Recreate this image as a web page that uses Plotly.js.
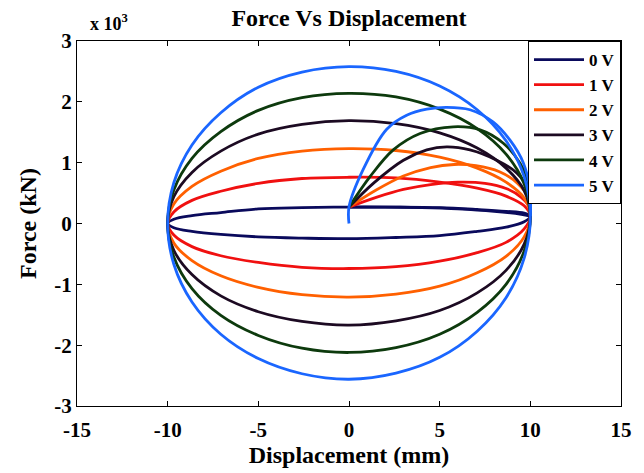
<!DOCTYPE html>
<html>
<head>
<meta charset="utf-8">
<script src="https://cdn.plot.ly/plotly-3.0.1.min.js"></script>
<style>html,body{margin:0;padding:0;background:#fff;}#chart{width:644px;height:473px;}</style>
</head>
<body>
<div id="chart"></div>
<script>
// Displacement positions along each hysteresis loop (mm)
const loopX = [-10, -9.66, -8.66, -7.07, -5, -2.59, 0, 2.59, 5, 7.07, 8.66, 9.66, 10];

// Upper / lower branch forces (x10^3 kN)
const up0V = [0, .07, .13, .18, .24, .26, .27, .27, .26, .23, .2, .17, .12];
const lo0V = [0, -.07, -.13, -.18, -.22, -.24, -.25, -.23, -.2, -.13, -.06, .03, .12];
const up1V = [0, .19, .38, .53, .66, .74, .76, .75, .68, .58, .45, .29, .12];
const lo1V = [0, -.19, -.38, -.53, -.64, -.72, -.74, -.71, -.62, -.48, -.31, -.09, .12];
const up2V = [0, .32, .61, .86, 1.07, 1.19, 1.23, 1.2, 1.09, .91, .68, .42, .12];
const lo2V = [0, -.32, -.61, -.86, -1.05, -1.17, -1.21, -1.16, -1.03, -.81, -.54, -.22, .12];
const up3V = [0, .44, .84, 1.19, 1.47, 1.63, 1.69, 1.64, 1.49, 1.24, .91, .54, .12];
const lo3V = [0, -.44, -.84, -1.19, -1.45, -1.61, -1.67, -1.6, -1.43, -1.14, -.77, -.34, .12];
const up4V = [0, .55, 1.07, 1.51, 1.86, 2.07, 2.14, 2.08, 1.88, 1.56, 1.14, .65, .12];
const lo4V = [0, -.55, -1.07, -1.51, -1.84, -2.05, -2.12, -2.04, -1.82, -1.46, -1.0, -.45, .12];
const up5V = [0, .67, 1.29, 1.82, 2.24, 2.49, 2.58, 2.5, 2.26, 1.87, 1.36, .77, .12];
const lo5V = [0, -.67, -1.29, -1.82, -2.22, -2.47, -2.56, -2.46, -2.2, -1.77, -1.22, -.57, .12];

// Initial loading curves (displacement, force)
const init0X = [0, 2, 4, 6, 8, 9.5, 10];
const init0Y = [0.27, 0.27, 0.26, 0.24, 0.2, 0.15, 0.12];
const init1X = [0, 1.5, 3, 4.5, 6, 7.5, 8.7, 9.5, 9.95, 10];
const init1Y = [0.27, 0.43, 0.56, 0.64, 0.68, 0.66, 0.57, 0.43, 0.27, 0.12];
const init2X = [0, 1.5, 3, 4.5, 5.8, 7, 8.3, 9.3, 9.9, 10];
const init2Y = [0.27, 0.55, 0.78, 0.92, 0.97, 0.95, 0.85, 0.66, 0.42, 0.12];
const init3X = [0, 1.34, 3.0, 4.29, 5.39, 6.67, 8.15, 9.25, 9.89, 10];
const init3Y = [0.27, 0.66, 1.04, 1.21, 1.26, 1.21, 1.04, 0.83, 0.55, 0.12];
const init4X = [0, 1.16, 2.44, 3.92, 5.75, 7.23, 8.51, 9.43, 9.89, 10];
const init4Y = [0.27, 0.77, 1.21, 1.48, 1.59, 1.54, 1.32, 0.99, 0.66, 0.12];
const init5X = [0, 0, 0.77, 2.08, 3.18, 4.29, 5.39, 6.67, 7.94, 8.88, 9.61, 9.98, 10];
const init5Y = [0, 0.27, 0.88, 1.55, 1.78, 1.88, 1.91, 1.87, 1.67, 1.37, 1.0, 0.55, 0.12];

const seriesNames = ['0 V', '1 V', '2 V', '3 V', '4 V', '5 V'];
const seriesColors = ['#0a0a5c', '#f01010', '#ff6000', '#1c0a22', '#0d3a0d', '#1a66ff'];
const uppers = [up0V, up1V, up2V, up3V, up4V, up5V];
const lowers = [lo0V, lo1V, lo2V, lo3V, lo4V, lo5V];
const initXs = [init0X, init1X, init2X, init3X, init4X, init5X];
const initYs = [init0Y, init1Y, init2Y, init3Y, init4Y, init5Y];

const traces = [];
for (let i = 0; i < seriesNames.length; i++) {
  const lx = loopX.concat(loopX.slice(0, -1).reverse());
  const ly = uppers[i].concat(lowers[i].slice(0, -1).reverse());
  traces.push({
    x: lx, y: ly, type: 'scatter', mode: 'lines', name: seriesNames[i],
    showlegend: true,
    line: {color: seriesColors[i], width: 2.8, shape: 'spline', smoothing: 1},
    hoverinfo: 'skip'
  });
  traces.push({
    x: initXs[i], y: initYs[i], type: 'scatter', mode: 'lines', name: seriesNames[i],
    showlegend: false,
    line: {color: seriesColors[i], width: 2.8, shape: 'spline', smoothing: 1},
    hoverinfo: 'skip'
  });
}

const FONT = 'Liberation Serif, Times New Roman, serif';
const xTicks = [-15, -10, -5, 0, 5, 10, 15];
const yTicks = [-3, -2, -1, 0, 1, 2, 3];

const axisBase = {
  showgrid: false, zeroline: false, showline: true, linecolor: '#000', linewidth: 1,
  mirror: 'ticks', ticks: 'inside', ticklen: 5, tickcolor: '#000', tickwidth: 1,
  tickfont: {family: FONT, size: 21, color: '#000', weight: 700}
};

const layout = {
  width: 644, height: 473,
  margin: {l: 77, r: 23, t: 41, b: 67},
  paper_bgcolor: '#fff', plot_bgcolor: '#fff',
  title: {text: 'Force Vs Displacement', x: 0.5, xref: 'paper', xanchor: 'center', y: 0.962, yanchor: 'middle',
          font: {family: FONT, size: 24, color: '#000', weight: 700}},
  xaxis: Object.assign({}, axisBase, {
    range: [-15, 15], tickvals: xTicks, ticktext: xTicks.map(String), ticklabelstandoff: 5,
    title: {text: 'Displacement (mm)', font: {family: FONT, size: 24, color: '#000', weight: 700}, standoff: 4}
  }),
  yaxis: Object.assign({}, axisBase, {
    range: [-3, 3], tickvals: yTicks, ticktext: yTicks.map(String),
    title: {text: 'Force (kN)', font: {family: FONT, size: 24, color: '#000', weight: 700}, standoff: 10}
  }),
  legend: {
    x: 1, xanchor: 'right', y: 1, yanchor: 'top', bgcolor: '#fff', bordercolor: '#000', borderwidth: 1,
    font: {family: FONT, size: 17, color: '#000', weight: 700}, itemwidth: 50, tracegroupgap: 0
  },
  annotations: [{
    text: 'x 10<sup>3</sup>', xref: 'paper', yref: 'paper', x: 0.02, y: 1, xanchor: 'left', yanchor: 'bottom',
    yshift: 5, showarrow: false, font: {family: FONT, size: 18, color: '#000', weight: 700}
  }],
  showlegend: true
};

Plotly.newPlot('chart', traces, layout, {displayModeBar: false, staticPlot: true});
</script>
</body>
</html>
